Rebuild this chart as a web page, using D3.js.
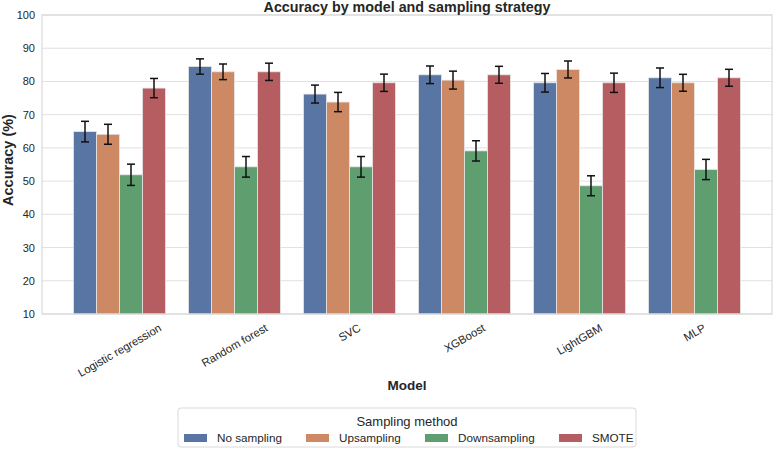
<!DOCTYPE html>
<html>
<head>
<meta charset="utf-8">
<script src="https://cdn.jsdelivr.net/npm/d3@7"></script>
<style>
  body { margin: 0; background: #fff; }
  svg { font-family: "Liberation Sans", Arial, sans-serif; }
</style>
</head>
<body>
<svg id="chart" width="777" height="450"></svg>
<script>
"use strict";

/* Chart data */
const models = ["Logistic regression", "Random forest", "SVC", "XGBoost", "LightGBM", "MLP"];
const methods = ["No sampling", "Upsampling", "Downsampling", "SMOTE"];

const noSampling   = [64.9, 84.5, 76.2, 82.0, 79.6, 81.1];
const upsampling   = [64.1, 82.9, 73.8, 80.4, 83.6, 79.6];
const downsampling = [51.9, 54.3, 54.3, 59.1, 48.6, 53.5];
const smote        = [78.0, 82.9, 79.6, 82.0, 79.6, 81.1];

const noSamplingErr   = [3.1, 2.3, 2.7, 2.65, 2.8, 2.95];
const upsamplingErr   = [3.0, 2.35, 2.9, 2.7, 2.55, 2.55];
const downsamplingErr = [3.2, 3.1, 3.1, 3.05, 3.0, 3.05];
const smoteErr        = [2.9, 2.6, 2.6, 2.55, 2.9, 2.55];

const yTicks = [10, 20, 30, 40, 50, 60, 70, 80, 90, 100];
const colors = ["#5975a4", "#cc8963", "#5f9e6e", "#b55d60"];

const seriesValues = [noSampling, upsampling, downsampling, smote];
const seriesErrors = [noSamplingErr, upsamplingErr, downsamplingErr, smoteErr];

/* Flatten into one row per bar */
let rows = [];
models.forEach(function(m, i) {
  methods.forEach(function(s, j) {
    rows.push({model: m, method: s, value: seriesValues[j][i], err: seriesErrors[j][i]});
  });
});

const svg = d3.select("#chart");
const plot = {left: 42, right: 772, top: 15, bottom: 314};
const textColor = "#262626";

/* Scales */
let x0 = d3.scaleBand()
    .domain(models)
    .range([plot.left + 20, plot.right - 20])
    .padding(0);
let bw = x0.bandwidth();
let x1 = d3.scaleBand()
    .domain(methods)
    .range([bw * 0.1, bw * 0.9])
    .padding(0);
let y = d3.scaleLinear()
    .domain([10, 100])
    .range([plot.bottom, plot.top]);
let color = d3.scaleOrdinal().domain(methods).range(colors);

/* Grid lines */
svg.append("g")
    .selectAll("line")
    .data(yTicks)
    .enter().append("line")
    .attr("x1", plot.left).attr("x2", plot.right)
    .attr("y1", function(d) { return y(d); })
    .attr("y2", function(d) { return y(d); })
    .attr("stroke", "#e0e0e0")
    .attr("stroke-width", 1);

/* Y axis */
let yAxis = svg.append("g")
    .attr("transform", "translate(" + plot.left + ",0)")
    .call(d3.axisLeft(y).tickValues(yTicks).tickSize(0).tickPadding(7));
yAxis.select(".domain").remove();
yAxis.selectAll("text")
    .attr("fill", textColor)
    .style("font-size", "11px")
    .style("font-family", "Liberation Sans, Arial, sans-serif");

/* Bars */
let groups = svg.append("g")
    .selectAll("g")
    .data(rows)
    .enter().append("g")
    .attr("transform", function(d) { return "translate(" + (x0(d.model) + x1(d.method)) + ",0)"; });

groups.append("rect")
    .attr("x", 0)
    .attr("y", function(d) { return y(d.value); })
    .attr("width", x1.bandwidth())
    .attr("height", function(d) { return y(10) - y(d.value); })
    .attr("fill", function(d) { return color(d.method); })
    .attr("stroke", "#e6e6e6")
    .attr("stroke-width", 0.8);

/* Error bars */
let cx = x1.bandwidth() / 2, cap = 4;
groups.append("line")
    .attr("x1", cx).attr("x2", cx)
    .attr("y1", function(d) { return y(d.value + d.err); })
    .attr("y2", function(d) { return y(d.value - d.err); })
    .attr("stroke", "#111").attr("stroke-width", 1.5);
groups.append("line")
    .attr("x1", cx - cap).attr("x2", cx + cap)
    .attr("y1", function(d) { return y(d.value + d.err); })
    .attr("y2", function(d) { return y(d.value + d.err); })
    .attr("stroke", "#111").attr("stroke-width", 1.5);
groups.append("line")
    .attr("x1", cx - cap).attr("x2", cx + cap)
    .attr("y1", function(d) { return y(d.value - d.err); })
    .attr("y2", function(d) { return y(d.value - d.err); })
    .attr("stroke", "#111").attr("stroke-width", 1.5);

/* Frame */
svg.append("rect")
    .attr("x", plot.left).attr("y", plot.top)
    .attr("width", plot.right - plot.left)
    .attr("height", plot.bottom - plot.top)
    .attr("fill", "none")
    .attr("stroke", "#d9d9d9")
    .attr("stroke-width", 1.2);

/* X tick labels, rotated 30 degrees, centred under the group */
let xLabels = svg.append("g")
    .selectAll("text")
    .data(models)
    .enter().append("text")
    .attr("text-anchor", "middle")
    .attr("dy", "0.35em")
    .attr("fill", textColor)
    .style("font-size", "11.3px")
    .text(function(d) { return d; });
xLabels.attr("transform", function(d) {
  let len = this.getComputedTextLength();
  let half = (len * 0.5 + 11 * 0.866) / 2;
  return "translate(" + (x0(d) + bw / 2) + "," + (plot.bottom + 8 + half) + ") rotate(-30)";
});

/* Title and axis labels */
svg.append("text")
    .attr("x", (plot.left + plot.right) / 2)
    .attr("y", 12)
    .attr("text-anchor", "middle")
    .attr("fill", textColor)
    .style("font-size", "14.3px")
    .style("font-weight", "bold")
    .text("Accuracy by model and sampling strategy");

svg.append("text")
    .attr("transform", "translate(13,160) rotate(-90)")
    .attr("text-anchor", "middle")
    .attr("fill", textColor)
    .style("font-size", "14.5px")
    .style("font-weight", "bold")
    .text("Accuracy (%)");

svg.append("text")
    .attr("x", (plot.left + plot.right) / 2)
    .attr("y", 390)
    .attr("text-anchor", "middle")
    .attr("fill", textColor)
    .style("font-size", "13.5px")
    .style("font-weight", "bold")
    .text("Model");

/* Legend */
let legend = svg.append("g").attr("transform", "translate(178,408)");
legend.append("rect")
    .attr("width", 458).attr("height", 39)
    .attr("rx", 3)
    .attr("fill", "#fff")
    .attr("stroke", "#d9d9d9");
legend.append("text")
    .attr("x", 229).attr("y", 18)
    .attr("text-anchor", "middle")
    .attr("fill", textColor)
    .style("font-size", "13px")
    .text("Sampling method");
const legendX = [6, 128, 247, 381];
let item = legend.selectAll(".item")
    .data(methods)
    .enter().append("g")
    .attr("class", "item")
    .attr("transform", function(d, i) { return "translate(" + legendX[i] + ",30)"; });
item.append("rect")
    .attr("x", 0).attr("y", -4)
    .attr("width", 23).attr("height", 8)
    .attr("fill", function(d) { return color(d); });
item.append("text")
    .attr("x", 33).attr("y", 0)
    .attr("dy", "0.35em")
    .attr("fill", textColor)
    .style("font-size", "11.7px")
    .text(function(d) { return d; });
</script>
</body>
</html>
